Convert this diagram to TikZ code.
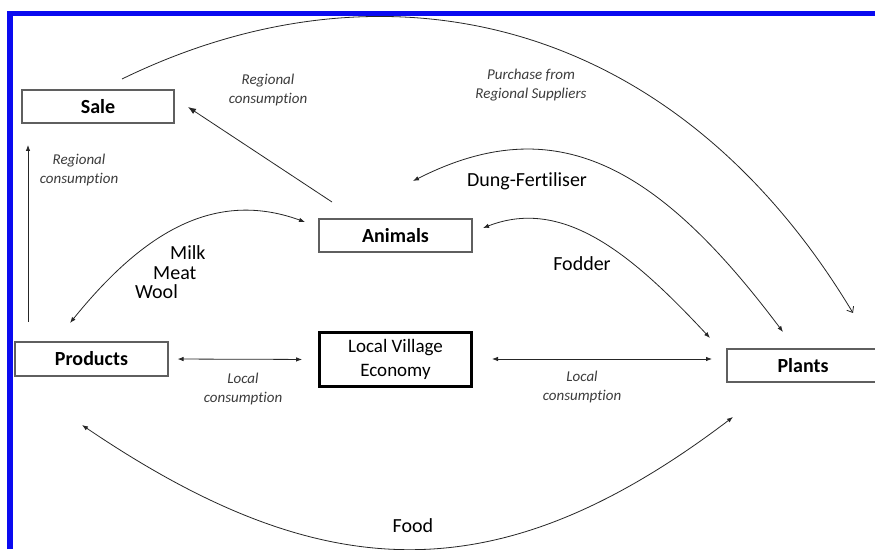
\documentclass[tikz,border=0pt]{standalone}
\usepackage{fontspec}
\setmainfont{Carlito}[Ligatures=NoCommon]
\usetikzlibrary{arrows.meta}
\definecolor{bord}{RGB}{10,10,240}
\definecolor{boxgray}{RGB}{95,95,95}
\definecolor{lblgray}{RGB}{60,60,60}
\begin{document}
\begin{tikzpicture}[x=1pt,y=1pt,
  box/.style={draw=boxgray, line width=1.1pt, minimum height=33pt, inner sep=0pt,
    font=\fontsize{20}{24}\selectfont\bfseries},
  conn/.style={line width=0.8pt, draw=black!85},
  tip/.style={-{Latex[length=6pt,width=4.5pt]}},
  tips/.style={{Latex[length=6pt,width=4.5pt]}-{Latex[length=6pt,width=4.5pt]}},
  lbl/.style={font=\fontsize{15}{19}\selectfont\itshape, text=lblgray, align=center, inner sep=0pt},
  big/.style={font=\fontsize{20}{24}\selectfont, align=center, inner sep=0pt}
]
\useasboundingbox (0,0) rectangle (875,549);
\fill[white] (0,0) rectangle (875,549);
% blue frame
\draw[bord, line width=5.5pt] (10,0) -- (10,535.5) -- (880,535.5);

% boxes
\node[box, minimum width=152pt] (sale) at (98,442.5) {Sale};
\node[box, minimum width=153pt] (animals) at (395.5,313.5) {Animals};
\node[box, minimum width=153pt, minimum height=34pt] (products) at (91.5,190) {Products};
\node[draw=black, line width=2.8pt, minimum width=152pt, minimum height=54pt, inner sep=0pt,
  align=center, font=\fontsize{19}{24}\selectfont] (local) at (395.5,189.5) {Local Village\\Economy};
\node[box, minimum width=152pt] (plants) at (803,183.5) {Plants};

% connector end points
\coordinate (v1) at (28,227);
\coordinate (v2) at (28,404);
\coordinate (as1) at (332,347);
\coordinate (as2) at (188,442);
\coordinate (p1) at (122,470);
\coordinate (p2) at (853,236);
\coordinate (d1) at (413,368);
\coordinate (d2) at (783,217);
\coordinate (f1) at (483,321);
\coordinate (f2) at (710,211);
\coordinate (m1) at (305,327);
\coordinate (m2) at (70,226);
\coordinate (fo1) at (82,124);
\coordinate (fo2) at (733,132);
\coordinate (lp1) at (492,190);
\coordinate (lp2) at (712,190);

% connectors
\draw[conn, tip] (v1) -- (v2);
\draw[conn, -{Latex[length=8pt,width=6pt]}] (as1) -- (as2);
\draw[conn, -{Straight Barb[length=5pt,width=8pt]}] (p1) .. controls (382.6,597) and (672.7,536) .. (p2);
\draw[conn, tips] (d1) .. controls (555,440) and (657,385) .. (d2);
\draw[conn, tips] (f1) .. controls (565,353) and (635,291.4) .. (f2);
\draw[conn, tips] (m1) .. controls (211,361.2) and (139.2,311.5) .. (m2);
\draw[conn, tips] (fo1) .. controls (324,-40) and (499.7,-45) .. (fo2);
\draw[conn, tips, shorten <=9pt, shorten >=16pt] (products.east) -- (local.west);
\draw[conn, tips] (lp1) -- (lp2);

% labels
\node[lbl] (l1) at (79,379) {Regional\\consumption};
\node[lbl] (l2) at (268,458.5) {Regional\\consumption};
\node[lbl] (l3) at (531,464) {Purchase from\\Regional Suppliers};
\node[big] (l4) at (527,368) {Dung-Fertiliser};
\node[big] (l5) at (582,285) {Fodder};
\node[big, anchor=west] (l6) at (170,296) {Milk};
\node[big, anchor=west] (l7) at (153,276) {Meat};
\node[big, anchor=west] (l8) at (135,257) {Wool};
\node[lbl] (l9) at (243,160) {Local\\consumption};
\node[lbl] (l10) at (582,161.5) {Local\\consumption};
\node[big] (l11) at (413,23) {Food};
\end{tikzpicture}
\end{document}
